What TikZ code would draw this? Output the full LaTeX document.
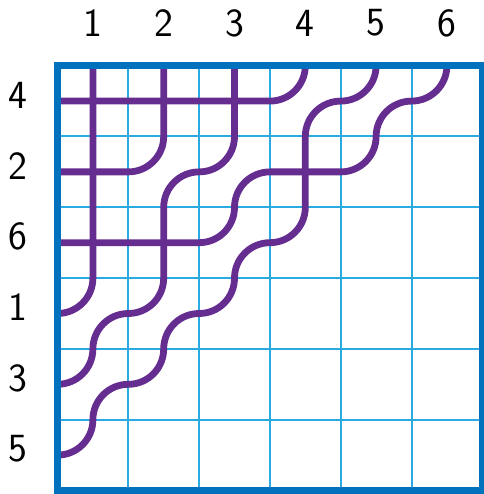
\documentclass[tikz,border=0pt]{standalone}
\usepackage{fontspec}
\definecolor{frameblue}{HTML}{0071BC}
\definecolor{gridblue}{HTML}{29ABE2}
\definecolor{pipepurple}{HTML}{662D91}
\begin{document}
\begin{tikzpicture}[x=1pt,y=-1pt,
  gridline/.style={draw=gridblue,line width=2pt},
  framebox/.style={draw=frameblue,line width=6.5pt},
  pipe/.style={draw=pipepurple,line width=6.8pt,rounded corners=35.4pt},
  lab/.style={font=\sffamily\fontsize{40}{40}\selectfont,text=black,inner sep=0pt}]
\useasboundingbox (0,0) rectangle (483,494);
\def\cs{70.8}
\def\xo{57.5}
\def\yo{65.7}
% coordinates
\foreach \i in {1,...,6} {
  \foreach \j in {1,...,6} {
    \coordinate (c\i\j) at ({\xo+(\j-0.5)*\cs},{\yo+(\i-0.5)*\cs});
  }
  \coordinate (t\i) at ({\xo+(\i-0.5)*\cs},\yo);
  \coordinate (l\i) at (\xo,{\yo+(\i-0.5)*\cs});
}
% grid
\foreach \k in {1,...,5} {
  \draw[gridline] ({\xo+\k*\cs},\yo) -- ({\xo+\k*\cs},{\yo+6*\cs});
  \draw[gridline] (\xo,{\yo+\k*\cs}) -- ({\xo+6*\cs},{\yo+\k*\cs});
}
% pipes
\draw[pipe] (t1) -- (c41) -- (l4);
\draw[pipe] (t2) -- (c22) -- (l2);
\draw[pipe] (t3) -- (c23) -- (c22) -- (c42) -- (c41) -- (c51) -- (l5);
\draw[pipe] (t4) -- (c14) -- (l1);
\draw[pipe] (t5) -- (c15) -- (c14) -- (c34) -- (c33) -- (c43) -- (c42) -- (c52) -- (c51) -- (c61) -- (l6);
\draw[pipe] (t6) -- (c16) -- (c15) -- (c25) -- (c23) -- (c33) -- (l3);
% frame
\draw[framebox] (\xo,\yo) rectangle ({\xo+6*\cs},{\yo+6*\cs});
% labels
\foreach \j in {1,...,6} {
  \node[lab] (top\j) at ({\xo+(\j-0.5)*\cs},23) {\j};
}
\foreach \v [count=\i] in {4,2,6,1,3,5} {
  \node[lab] (left\i) at (18,{\yo+(\i-0.5)*\cs-6}) {\v};
}
\end{tikzpicture}
\end{document}
